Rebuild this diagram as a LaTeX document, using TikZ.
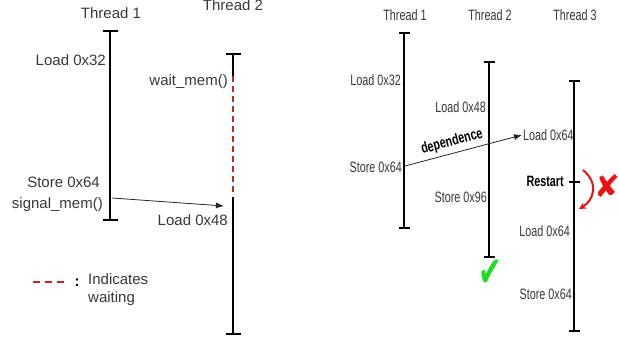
\documentclass[tikz,border=0pt]{standalone}
\usepackage{fontspec}
\setmainfont{Liberation Sans}
\newfontfamily\narrowf[FakeStretch=0.72]{Liberation Sans}
\newfontfamily\symf{DejaVu Sans}
\usetikzlibrary{arrows.meta}
\definecolor{txt}{HTML}{383838}
\definecolor{waitred}{HTML}{B52A2A}
\definecolor{okgreen}{HTML}{22DD22}
\definecolor{badred}{HTML}{EE1111}
\begin{document}
\begin{tikzpicture}[x=1pt,y=-1pt,
  barL/.style={line width=2pt,{Bar[width=15pt]}-{Bar[width=15pt]}},
  barR/.style={line width=1.8pt,{Bar[width=11pt]}-{Bar[width=11pt]}},
  lbl/.style={font=\fontsize{15}{17}\selectfont, text=txt, inner sep=0pt},
  rlbl/.style={font=\narrowf\fontsize{15}{16}\selectfont, text=txt, inner sep=0pt},
  rbold/.style={font=\narrowf\bfseries\fontsize{15}{16}\selectfont, text=black, inner sep=0pt},
  msg/.style={line width=0.8pt, draw=black!85, -{Latex[length=8pt,width=6pt]}},
  waitline/.style={line width=2pt, draw=waitred, dash pattern=on 6pt off 4pt}
]
\useasboundingbox (0,0) rectangle (619,340);

% ---------------- Left panel ----------------
\node[lbl] (lt1) at (111,13) {Thread 1};
\node[lbl] (lt2) at (233,5) {Thread 2};

\coordinate (l1top) at (110,30);
\coordinate (l1bot) at (110,221);
\draw[barL] (l1top) -- (l1bot);

\coordinate (l2top) at (233,53);
\coordinate (l2w1) at (233,76);
\coordinate (l2w2) at (233,193);
\coordinate (l2s) at (233,197);
\coordinate (l2bot) at (233,335);
\draw[line width=2pt,{Bar[width=15pt]}-] (l2top) -- (l2w1);
\draw[waitline] (l2w1) -- (l2w2);
\draw[line width=2pt,-{Bar[width=15pt]}] (l2s) -- (l2bot);

\node[lbl, anchor=east] (lload32) at (106,60) {Load 0x32};
\node[lbl, anchor=east] (lwait) at (228,82) {wait\_mem()};
\node[lbl, anchor=east] (lstore) at (100,182) {Store 0x64};
\node[lbl, anchor=east] (lsignal) at (103,205) {signal\_mem()};
\node[lbl, anchor=east] (lload48) at (228,220) {Load 0x48};

\coordinate (msgA) at (112,198);
\coordinate (msgB) at (224,206);
\draw[msg] (msgA) -- (msgB);

% legend
\coordinate (legA) at (33,282);
\coordinate (legB) at (65,282);
\draw[waitline, dash pattern=on 7pt off 5pt] (legA) -- (legB);
\node[lbl, font=\bfseries\fontsize{15}{17}\selectfont, text=black] (legcolon) at (77,283) {:};
\node[lbl, anchor=west, align=left, font=\fontsize{15}{18}\selectfont] (legtxt) at (88,290) {Indicates\\waiting};

% ---------------- Right panel ----------------
\node[rlbl] (rt1) at (405,15) {Thread 1};
\node[rlbl] (rt2) at (490,15) {Thread 2};
\node[rlbl] (rt3) at (575,15) {Thread 3};

\coordinate (r1top) at (404,32);
\coordinate (r1bot) at (404,229);
\coordinate (r2top) at (489,61);
\coordinate (r2bot) at (489,258);
\coordinate (r3top) at (574,80);
\coordinate (r3bot) at (574,332);
\draw[barR] (r1top) -- (r1bot);
\draw[barR] (r2top) -- (r2bot);
\draw[barR] (r3top) -- (r3bot);

\node[rlbl, anchor=east] (rload32) at (401,80) {Load 0x32};
\node[rlbl, anchor=east] (rstore64a) at (402,167) {Store 0x64};
\node[rlbl, anchor=east] (rload48) at (486,107) {Load 0x48};
\node[rlbl, anchor=east] (rstore96) at (487,197) {Store 0x96};
\node[rlbl, anchor=west] (rload64a) at (523,135) {Load 0x64};
\node[rlbl, anchor=east] (rload64b) at (570,231) {Load 0x64};
\node[rlbl, anchor=east] (rstore64b) at (572,294) {Store 0x64};
\node[rbold, anchor=east] (restart) at (564,181) {Restart};

\coordinate (depA) at (405,166);
\coordinate (depB) at (522,135);
\draw[msg] (depA) -- (depB);
\node[rbold, rotate=15] (dep) at (452,142) {dependence};

\coordinate (tickA) at (569,182);
\coordinate (tickB) at (580,182);
\draw[line width=1.8pt] (tickA) -- (tickB);

\coordinate (curA) at (583,170);
\coordinate (curB) at (579,209);
\draw[badred, line width=2pt, -{Stealth[length=7pt,width=7pt]}] (curA) .. controls (599,183) and (594,200) .. (curB);

\node[inner sep=0pt, text=badred, font=\symf\bfseries\fontsize{31}{31}\selectfont] (cross) at (607,186) {✘};
\node[inner sep=0pt, text=okgreen, font=\symf\fontsize{42}{42}\selectfont, xscale=0.68] (check) at (490,273) {✔};
\end{tikzpicture}
\end{document}
